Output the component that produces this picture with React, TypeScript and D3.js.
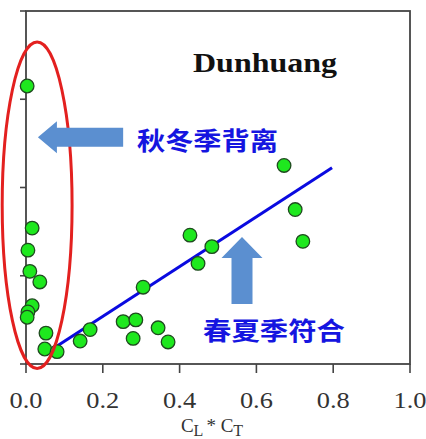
import * as d3 from "d3";
import React from "react";

// C_L * C_T (x) against the unlabelled y value
const xValues = [
  0.003, 0.016, 0.005, 0.01, 0.036, 0.016, 0.005, 0.003, 0.052, 0.049, 0.081, 0.141, 0.167,
  0.305, 0.253, 0.286, 0.279, 0.344, 0.37, 0.427, 0.448, 0.484, 0.672, 0.701, 0.721,
];
const yValues = [
  3.15, 1.54, 1.29, 1.05, 0.93, 0.66, 0.59, 0.53, 0.35, 0.17, 0.14, 0.26, 0.39,
  0.87, 0.48, 0.5, 0.29, 0.41, 0.25, 1.46, 1.14, 1.33, 2.25, 1.75, 1.39,
];

const xTicks = [0, 0.2, 0.4, 0.6, 0.8, 1.0];
const yTicks = [0, 1, 2, 3, 4];

// fitted line y = slope * x + intercept over [fitStart, fitEnd]
const fitSlope = 2.82;
const fitIntercept = -0.024;
const fitStart = 0.076;
const fitEnd = 0.797;

const title = "Dunhuang";
const labelAutumn = "秋冬季背离";
const labelSpring = "春夏季符合";

export default function App(): React.ReactElement {
  const width = 426;
  const height = 439;
  const margin = { bottom: 75, left: 26, right: 16, top: 11 };
  const innerW = width - margin.left - margin.right;
  const innerH = height - margin.top - margin.bottom;

  const x = d3.scaleLinear().domain([0, 1]).range([0, innerW]);
  const y = d3.scaleLinear().domain([0, 4]).range([innerH, 0]);

  const points = xValues.map((v, i) => ({ x: v, y: yValues[i] }));

  const fit = d3
    .line<number>()
    .x((d) => x(d))
    .y((d) => y(fitSlope * d + fitIntercept))([fitStart, fitEnd]) ?? "";

  // left arrow pointing at the y axis cluster
  const a1 = { tipX: x(0.031), cy: y(2.57) };
  const arrowLeft = [
    [a1.tipX, a1.cy],
    [a1.tipX + 19, a1.cy - 16],
    [a1.tipX + 19, a1.cy - 9.5],
    [x(0.253), a1.cy - 9.5],
    [x(0.253), a1.cy + 9.5],
    [a1.tipX + 19, a1.cy + 9.5],
    [a1.tipX + 19, a1.cy + 16],
  ];
  // up arrow pointing at the fitted line
  const a2 = { cx: x(0.5625), tipY: y(1.44) };
  const arrowUp = [
    [a2.cx, a2.tipY],
    [a2.cx + 20.5, a2.tipY + 21],
    [a2.cx + 10.5, a2.tipY + 21],
    [a2.cx + 10.5, y(0.68)],
    [a2.cx - 10.5, y(0.68)],
    [a2.cx - 10.5, a2.tipY + 21],
    [a2.cx - 20.5, a2.tipY + 21],
  ];
  const poly = (pts: number[][]) => pts.map((p) => p.join(",")).join(" ");

  const axisColor = "#444";
  const serif = "'Liberation Serif', 'Times New Roman', serif";
  const cjk = "'Noto Sans CJK SC', sans-serif";

  return (
    <div style={{ left: 0, position: "absolute", top: 0 }}>
      <svg height={height} width={width} style={{ background: "#fff", display: "block" }}>
        <g transform={`translate(${margin.left},${margin.top})`}>
          {/* frame */}
          <rect fill="none" height={innerH} stroke={axisColor} strokeWidth={1.8} width={innerW} />

          {/* y ticks, no labels */}
          {yTicks.map((t) => (
            <line key={`yt-${t}`} stroke={axisColor} strokeWidth={1.6} x1={-6} x2={0} y1={y(t)} y2={y(t)} />
          ))}

          {/* x ticks */}
          {xTicks.map((t) => (
            <g key={`xt-${t}`} transform={`translate(${x(t)},${innerH})`}>
              <line stroke={axisColor} strokeWidth={1.6} y1={0} y2={9} />
              <text
                fill="#333"
                fontFamily={serif}
                fontSize={23}
                lengthAdjust="spacingAndGlyphs"
                textAnchor="middle"
                textLength={33}
                y={44}
              >
                {t.toFixed(1)}
              </text>
            </g>
          ))}

          {/* x axis title */}
          <text fill="#333" fontFamily={serif} fontSize={19} textAnchor="middle" x={x(0.5) - 6} y={innerH + 68}>
            C<tspan baselineShift="-25%" fontSize={16}>L</tspan>
            <tspan dx={3}>* C</tspan>
            <tspan baselineShift="-25%" fontSize={16}>T</tspan>
          </text>

          {/* regression line */}
          <path d={fit} fill="none" stroke="#0a0ae0" strokeWidth={3} />

          {/* points */}
          {points.map((p, i) => (
            <circle
              cx={x(p.x)}
              cy={y(p.y)}
              fill="#1ee81e"
              key={`pt-${i}`}
              r={6.8}
              stroke="#1f4a1f"
              strokeWidth={1.3}
            />
          ))}

          {/* highlighted cluster */}
          <ellipse
            cx={x(0.029)}
            cy={y(1.8)}
            fill="none"
            rx={x(0.091) - x(0)}
            ry={y(0) - y(1.85)}
            stroke="#e3201f"
            strokeWidth={3}
          />

          {/* arrows */}
          <polygon fill="#5b8fd0" points={poly(arrowLeft)} />
          <polygon fill="#5b8fd0" points={poly(arrowUp)} />

          {/* annotations */}
          <text
            fill="#111"
            fontFamily={serif}
            fontSize={28}
            fontWeight="bold"
            lengthAdjust="spacingAndGlyphs"
            textLength={144}
            x={x(0.435)}
            y={y(3.31)}
          >
            {title}
          </text>
          <text
            dominantBaseline="central"
            fill="#1515e0"
            fontFamily={cjk}
            fontSize={25}
            fontWeight="bold"
            lengthAdjust="spacingAndGlyphs"
            textLength={141}
            x={x(0.289)}
            y={y(2.55)}
          >
            {labelAutumn}
          </text>
          <text
            dominantBaseline="central"
            fill="#1515e0"
            fontFamily={cjk}
            fontSize={25}
            fontWeight="bold"
            lengthAdjust="spacingAndGlyphs"
            textLength={142}
            x={x(0.461)}
            y={y(0.4)}
          >
            {labelSpring}
          </text>
        </g>
      </svg>
    </div>
  );
}
